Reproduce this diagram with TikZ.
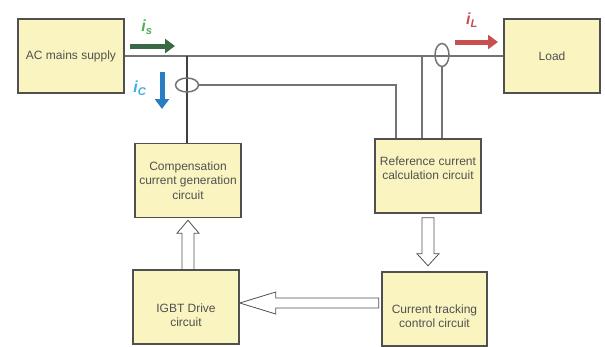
\documentclass[tikz,border=0pt]{standalone}
\usepackage{fontspec}
\setmainfont{Liberation Sans}
\usepackage{xcolor}
\usepackage{tikz}
\usetikzlibrary{arrows.meta}
\usetikzlibrary{backgrounds,positioning,calc}
\usetikzlibrary{shapes,shapes.geometric}
\pgfdeclarelayer{edgelayer}
\pgfdeclarelayer{nodelayer}
\pgfsetlayers{background,edgelayer,nodelayer,main}
\definecolor{boxfill}{RGB}{250,245,192}
\definecolor{boxline}{RGB}{80,80,80}
\definecolor{wiregray}{RGB}{115,115,115}
\definecolor{textgray}{RGB}{80,80,80}
\definecolor{isgreen}{RGB}{58,105,70}
\definecolor{islabel}{RGB}{80,175,80}
\definecolor{icblue}{RGB}{40,125,195}
\definecolor{iclabel}{RGB}{60,175,225}
\definecolor{ilred}{RGB}{200,80,80}
\tikzstyle{none}=[inner sep=0mm]
\tikzstyle{block}=[draw=boxline,fill=boxfill,line width=1.5pt,minimum width=106pt,minimum height=74pt,inner sep=0pt]
\tikzstyle{txt}=[none,align=center,text=textgray,font=\fontsize{12}{14.5}\selectfont]
\tikzstyle{wire}=[draw=wiregray,line width=1.5pt]
\tikzstyle{darkwire}=[draw=black!75,line width=1.5pt]
\tikzstyle{sensor}=[draw=wiregray,line width=1.5pt,shape=ellipse,inner sep=0pt]
\tikzstyle{hollow}=[draw=boxline,fill=white,line width=0.8pt,line join=miter]
\tikzstyle{flow}=[line width=5pt,-{Triangle[length=10pt,width=14pt]}]
\tikzstyle{cur}=[none,font=\fontsize{16}{16}\selectfont\bfseries\itshape]

\begin{document}
\begin{tikzpicture}[x=1pt,y=-1pt]
	\useasboundingbox (0,0) rectangle (605,346);
	\begin{pgfonlayer}{nodelayer}
		\node [style=block] (ac) at (71,56) {};
		\node [style=block,minimum width=96pt] (load) at (552,56) {};
		\node [style=block] (comp) at (188,180.5) {};
		\node [style=block] (ref) at (428,176) {};
		\node [style=block] (igbt) at (186,307) {};
		\node [style=block,minimum width=105pt] (ctrl) at (434.5,309) {};
		\node [style=txt] (ac-t) at (ac.center) {AC mains supply};
		\node [style=txt] (load-t) at (load.center) {Load};
		\node [style=txt] (comp-t) at (comp.center) {Compensation\\current generation\\circuit};
		\node [style=txt] (ref-t) at (428,168) {Reference current\\calculation circuit};
		\node [style=txt] (igbt-t) at (186,315) {IGBT Drive\\circuit};
		\node [style=txt] (ctrl-t) at (434.5,316) {Current tracking\\control circuit};
		\node [style=sensor,minimum width=23pt,minimum height=14pt] (s1) at (187,85) {};
		\node [style=sensor,minimum width=14pt,minimum height=23pt] (s2) at (442,55) {};
		\node [style=cur,text=islabel] (is-t) at (147,27) {i\textsubscript{s}};
		\node [style=cur,text=iclabel] (ic-t) at (140,88) {i\textsubscript{C}};
		\node [style=cur,text=ilred] (il-t) at (472,20) {i\textsubscript{L}};
	\end{pgfonlayer}
	\begin{pgfonlayer}{edgelayer}
		\coordinate (j1) at (187,56);
		\coordinate (j2) at (422,56);
		\coordinate (k1) at (396,85);
		\draw [style=wire] (ac.east) to (load.west);
		\draw [style=darkwire] (j1) to (j1 |- comp.north);
		\draw [style=wire] (s1.east) to (k1) to (k1 |- ref.north);
		\draw [style=wire] (j2) to (j2 |- ref.north);
		\draw [style=wire] (s2.south) to (s2.south |- ref.north);
		% current arrows
		\coordinate (is0) at (130,46);
		\coordinate (is1) at (175,46);
		\coordinate (ic0) at (162,72);
		\coordinate (ic1) at (162,109);
		\coordinate (il0) at (455,42);
		\coordinate (il1) at (498,42);
		\draw [style=flow,draw=isgreen,color=isgreen] (is0) to (is1);
		\draw [style=flow,draw=icblue,color=icblue] (ic0) to (ic1);
		\draw [style=flow,draw=ilred,color=ilred] (il0) to (il1);
		% hollow arrows
		\draw [style=hollow] (comp.south) ++(0,2) -- ++(11,13) -- ++(-5,0) -- ++(0,37) -- ++(-12,0) -- ++(0,-37) -- ++(-5,0) -- cycle;
		\draw [style=hollow] (ref.south) ++(-6,4) -- ++(0,36) -- ++(-5,0) -- ++(11,12) -- ++(11,-12) -- ++(-5,0) -- ++(0,-36) -- cycle;
		\draw [style=hollow] (igbt.east |- 0,303) -- ++(36,-11) -- ++(0,6) -- ++(103,0) -- ++(0,10) -- ++(-103,0) -- ++(0,6) -- cycle;
	\end{pgfonlayer}
\end{tikzpicture}
\end{document}
